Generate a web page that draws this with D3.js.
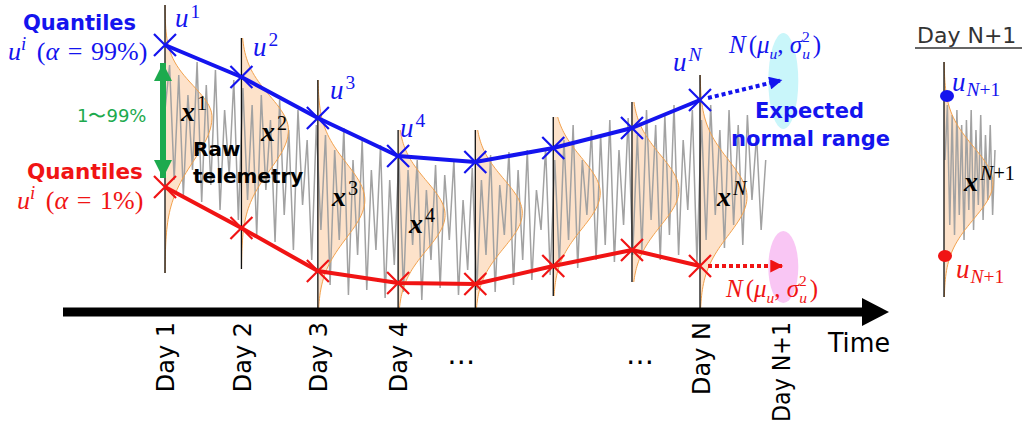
<!DOCTYPE html>
<html>
<head>
<meta charset="utf-8">
<script src="https://cdn.jsdelivr.net/npm/d3@7"></script>
<style>
body { margin: 0; background: #fff; }
</style>
</head>
<body>
<svg id="chart" width="1026" height="429"></svg>
<script>
// days shown on the time axis
var dayTime = [1, 2, 3, 4.05, 5.06, 6.08, 7.11, 8];
var dayMarks = ["1", "2", "3", "4", null, null, null, "N"];
// quantiles per day (value units)
var upperQ = [265, 233, 192, 154, 148, 162, 182, 210];
var lowerQ = [123, 82, 39, 27, 26, 44, 60, 44];
// daily distribution of telemetry
var distMean = [193, 180, 110, 95, 97, 117, 120, 113];
var distSdHigh = [31, 34, 37, 34, 34, 35, 35, 37];
var distSdLow = [44, 40, 38, 35, 35, 36, 36, 38];
var rangeHigh = [305, 272, 230, 180, 180, 193, 208, 235];
var rangeLow = [37, 41, -6, -6, -6, 14, 28, -6];
// axis labels
var axisLabels = ["Day 1", "Day 2", "Day 3", "Day 4", "\u2026", "\u2026", "Day N", "Day N+1"];
var axisLabelTime = [1, 2, 3, 4.05, 4.87, 7.21, 8.01, 9.06];
// raw telemetry samples, every 0.06 day from day 1
var grayStart = 1, grayStep = 0.06;
var telemetry = [200, 245, 130, 235, 115, 215, 140, 248, 108, 225, 125, 240, 100, 200, 135, 230, 90,
  222, 110, 205, 75, 215, 120, 190, 68, 210, 95, 180, 60, 200, 105, 170, 50, 185,
  80, 175, 25, 160, 70, 182, 15, 150, 55, 170, 20, 140, 60, 165, 12, 130, 45, 155,
  18, 140, 65, 150, 10, 120, 50, 145, 22, 135, 70, 150, 15, 110, 40, 142, 20,
  130, 55, 155, 18, 125, 75, 158, 25, 140, 50, 160, 30, 120, 80, 162, 35, 150,
  45, 170, 70, 185, 42, 150, 95, 180, 50, 175, 65, 190, 48, 160, 85, 192, 55,
  175, 60, 200, 90, 185, 50, 195, 75, 205, 55, 170, 100, 200, 48,
  190, 70, 205, 95, 180, 62, 200, 85, 185, 65, 195, 110, 175, 80, 150];
// next day prediction
var nextTime = 9.09;
var nextMean = [229, 45];
var nextSpread = [16, 12];
// Day N+1 panel
var panelUpper = 214, panelLower = 54;
var panelMean = 127, panelSd = 36, panelHigh = 248, panelLow = 13;
var panelTelemetry = [150, 205, 85, 195, 75, 200, 95, 185, 70, 190, 100, 200, 80, 180, 105, 195, 90, 175, 110, 185, 95, 160];

var BLUE = "#1414ee", RED = "#f01414", GREEN = "#1daa4e";
var svg = d3.select("#chart");

var x = d3.scaleLinear().domain([1, 8]).range([165, 700]);
var y = d3.scaleLinear().domain([0, 300]).range([310, 10]);
var px = d3.scaleLinear().domain([0, 1]).range([945, 995]);

var defs = svg.append("defs");
function arrowMarker(id, color, w, h) {
  defs.append("marker").attr("id", id)
    .attr("markerUnits", "userSpaceOnUse")
    .attr("viewBox", "0 0 10 10").attr("refX", 10).attr("refY", 5)
    .attr("markerWidth", w).attr("markerHeight", h)
    .attr("orient", "auto-start-reverse")
    .append("path").attr("d", "M0,0L10,5L0,10Z").attr("fill", color);
}
arrowMarker("arBlue", BLUE, 14, 13);
arrowMarker("arRed", RED, 14, 13);
arrowMarker("arGreen", GREEN, 20, 18);

function bump(x0, mean, sdHi, sdLo, hi, lo, w) {
  return d3.range(hi, lo - 0.1, -(hi - lo) / 80).map(function(v) {
    var z = (v - mean) / (v > mean ? sdHi : sdLo);
    return [x0 + w * Math.exp(-z * z / 2), y(v)];
  });
}

// distributions (fill)
var gDist = svg.append("g");
var dayBumps = dayTime.map(function(t, i) {
  return bump(x(t), distMean[i], distSdHigh[i], distSdLow[i], rangeHigh[i], Math.max(rangeLow[i], 0), 47);
});
dayTime.forEach(function(t, i) {
  var lo = Math.max(rangeLow[i], 0);
  gDist.append("path")
    .attr("d", d3.line()([[x(t), y(rangeHigh[i])]].concat(dayBumps[i]).concat([[x(t), y(lo)]])) + "Z")
    .attr("fill", "#fcd6b4").attr("fill-opacity", 0.7);
});
var panelPts = bump(px(0) - 1, panelMean, panelSd, panelSd, panelHigh, panelLow, 49);
gDist.append("path")
  .attr("d", d3.line()([[px(0) - 1, y(panelHigh)]].concat(panelPts).concat([[px(0) - 1, y(panelLow)]])) + "Z")
  .attr("fill", "#fcd6b4").attr("fill-opacity", 0.7);

// raw telemetry
var grayLine = d3.line()
  .x(function(d, i) { return x(grayStart + i * grayStep); })
  .y(function(d) { return y(d); });
svg.append("path").attr("d", grayLine(telemetry))
  .attr("fill", "none").attr("stroke", "#a2a2a2").attr("stroke-width", 1.5);
var panelLine = d3.line()
  .x(function(d, i) { return px(i / (panelTelemetry.length - 1)); })
  .y(function(d) { return y(d); });
svg.append("path").attr("d", panelLine(panelTelemetry))
  .attr("fill", "none").attr("stroke", "#a2a2a2").attr("stroke-width", 1.5);

// distribution outlines
dayBumps.forEach(function(pts) {
  svg.append("path").attr("d", d3.line()(pts))
    .attr("fill", "none").attr("stroke", "#f2a24e").attr("stroke-width", 1);
});
svg.append("path").attr("d", d3.line()(panelPts))
  .attr("fill", "none").attr("stroke", "#f2a24e").attr("stroke-width", 1);

// day lines
dayTime.forEach(function(t, i) {
  svg.append("line").attr("x1", x(t)).attr("x2", x(t))
    .attr("y1", y(rangeHigh[i])).attr("y2", y(rangeLow[i]))
    .attr("stroke", "#111").attr("stroke-width", 1.3);
});
svg.append("line").attr("x1", px(0) - 1).attr("x2", px(0) - 1)
  .attr("y1", y(panelHigh)).attr("y2", y(panelLow))
  .attr("stroke", "#111").attr("stroke-width", 1.3);

// time axis
var axis = d3.axisBottom(x).tickValues(axisLabelTime).tickSize(0)
  .tickFormat(function(d, i) { return axisLabels[i]; });
var gAxis = svg.append("g").attr("transform", "translate(0,312)").call(axis);
gAxis.select(".domain").remove();
gAxis.selectAll("text")
  .attr("font-family", "'DejaVu Sans', sans-serif").attr("font-size", 24).attr("fill", "#000")
  .each(function(d, i) {
    var t = d3.select(this);
    if (axisLabels[i] === "\u2026") {
      t.attr("transform", null).attr("x", 0).attr("y", 52).attr("dy", 0)
        .attr("font-size", 28).style("text-anchor", "middle");
    } else {
      t.attr("transform", "rotate(-90)").attr("x", -10).attr("y", 0).attr("dy", "0.36em")
        .style("text-anchor", "end");
      if (axisLabels[i].length > 6) t.attr("textLength", 100).attr("lengthAdjust", "spacingAndGlyphs");
    }
  });
gAxis.append("line").attr("x1", 63).attr("x2", 866).attr("y1", 0).attr("y2", 0)
  .attr("stroke", "#000").attr("stroke-width", 9);
gAxis.append("path").attr("d", "M862,-14L889,0L862,14Z").attr("fill", "#000");
svg.append("text").attr("x", 828).attr("y", 352).text("Time")
  .attr("font-family", "'DejaVu Sans Condensed', 'DejaVu Sans', sans-serif").attr("font-size", 26)
  .attr("textLength", 62).attr("lengthAdjust", "spacingAndGlyphs").attr("fill", "#000");

// quantile lines
function quantLine(vals, color) {
  var pts = vals.map(function(v, i) { return [x(dayTime[i]), y(v)]; });
  svg.append("path").attr("d", d3.line()(pts)).attr("fill", "none")
    .attr("stroke", color).attr("stroke-width", 4).attr("stroke-linejoin", "round");
  svg.selectAll(null).data(pts).enter().append("path")
    .attr("transform", function(d) { return "translate(" + d[0] + "," + d[1] + ")"; })
    .attr("d", "M-11,-11L11,11M-11,11L11,-11")
    .attr("stroke", color).attr("stroke-width", 2.2).attr("fill", "none");
}
quantLine(upperQ, BLUE);
quantLine(lowerQ, RED);

// prediction ellipses and dotted arrows
svg.append("ellipse").attr("cx", x(nextTime)).attr("cy", y(nextMean[0]))
  .attr("rx", 15).attr("ry", 3 * nextSpread[0]).attr("fill", "#c9f6fa");
svg.append("ellipse").attr("cx", x(nextTime)).attr("cy", y(nextMean[1]) + 2)
  .attr("rx", 15).attr("ry", 3 * nextSpread[1]).attr("fill", "#f9c6f4");
var last = dayTime.length - 1;
svg.append("line").attr("x1", x(dayTime[last]) + 8).attr("y1", y(upperQ[last]) - 2)
  .attr("x2", x(nextTime) - 1).attr("y2", y(nextMean[0]) - 1)
  .attr("stroke", BLUE).attr("stroke-width", 4).attr("stroke-dasharray", "4,3")
  .attr("marker-end", "url(#arBlue)");
svg.append("line").attr("x1", x(dayTime[last]) + 8).attr("y1", y(lowerQ[last]))
  .attr("x2", x(nextTime)).attr("y2", y(lowerQ[last]))
  .attr("stroke", RED).attr("stroke-width", 4).attr("stroke-dasharray", "4,3")
  .attr("marker-end", "url(#arRed)");

// green range arrow
svg.append("line").attr("x1", 163).attr("x2", 163)
  .attr("y1", y(upperQ[0]) + 18).attr("y2", y(lowerQ[0]) - 9)
  .attr("stroke", GREEN).attr("stroke-width", 6)
  .attr("marker-start", "url(#arGreen)").attr("marker-end", "url(#arGreen)");

// Day N+1 points
svg.append("ellipse").attr("cx", px(0) + 2).attr("cy", y(panelUpper)).attr("rx", 7).attr("ry", 6).attr("fill", BLUE);
svg.append("ellipse").attr("cx", px(0)).attr("cy", y(panelLower)).attr("rx", 7).attr("ry", 6).attr("fill", RED);

// text helpers
function mathText(x0, y0, parts, size, color, opts) {
  opts = opts || {};
  var supK = opts.sup || -0.38, subK = opts.sub || 0.2, scriptK = opts.script || 0.72;
  var t = svg.append("text").attr("x", x0).attr("y", y0)
    .attr("font-family", "'Liberation Serif', 'DejaVu Serif', serif")
    .attr("font-size", size).attr("fill", color);
  var shift = 0;
  parts.forEach(function(p) {
    var s = p.sup ? supK * size : (p.sub ? subK * size : 0);
    var ts = t.append("tspan").attr("dy", s - shift)
      .attr("font-size", (p.sup || p.sub) ? size * scriptK : size)
      .attr("font-style", p.it ? "italic" : "normal")
      .attr("font-weight", p.b ? "bold" : "normal")
      .text(p.t);
    if (p.dx) ts.attr("dx", p.dx);
    shift = s;
  });
  return t;
}
function sansText(x0, y0, str, size, color) {
  return svg.append("text").attr("x", x0).attr("y", y0).text(str)
    .attr("font-family", "'DejaVu Sans', sans-serif").attr("font-weight", "bold")
    .attr("font-size", size).attr("fill", color);
}

var SP = "\u2004";
sansText(23, 30, "Quantiles", 21, BLUE);
mathText(8, 60, [{t: "u", it: 1}, {t: "i", it: 1, sup: 1}, {t: " (", dx: 4}, {t: "\u03b1", it: 1}, {t: SP + "=" + SP + "99%)"}], 26, BLUE);
svg.append("text").attr("x", 77).attr("y", 122).text("1\u301c99%")
  .attr("font-family", "'DejaVu Sans', sans-serif").attr("font-size", 18).attr("fill", GREEN);
sansText(27, 179, "Quantiles", 21.5, RED);
mathText(17, 209, [{t: "u", it: 1}, {t: "i", it: 1, sup: 1}, {t: " (", dx: 4}, {t: "\u03b1", it: 1}, {t: SP + "=" + SP + "1%)"}], 26, RED);
sansText(193, 156, "Raw", 20, "#000");
sansText(193, 183, "telemetry", 20, "#000");
sansText(755, 118, "Expected", 21, BLUE);
sansText(731, 146, "normal range", 21, BLUE);

var uLabelPos = [[175, 27], [253, 56], [330, 99], [400, 137], null, null, null, [673, 71]];
dayMarks.forEach(function(m, i) {
  if (!m || !uLabelPos[i]) return;
  mathText(uLabelPos[i][0], uLabelPos[i][1], [{t: "u", it: 1}, {t: m, it: m === "N", sup: 1, dx: 2}], 27, BLUE,
    i === 0 ? {sup: -0.34} : null);
});
var xLabelPos = [[181, 121], [261, 141], [332, 206], [409, 233], null, null, null, [717, 206]];
dayMarks.forEach(function(m, i) {
  if (!m || !xLabelPos[i]) return;
  mathText(xLabelPos[i][0], xLabelPos[i][1], [{t: "x", it: 1, b: 1}, {t: m, it: m === "N", sup: 1, dx: 2}], 28, "#000");
});
mathText(964, 191, [{t: "x", it: 1, b: 1}, {t: "N", it: 1, sup: 1, dx: 2}, {t: "+1", sup: 1}], 28, "#000");
mathText(952, 91, [{t: "u", it: 1}, {t: "N", it: 1, sub: 1, dx: 1}, {t: "+1", sub: 1}], 27, BLUE);
mathText(956, 278, [{t: "u", it: 1}, {t: "N", it: 1, sub: 1, dx: 1}, {t: "+1", sub: 1}], 27, RED);

function normText(x0, y0, color) {
  mathText(x0, y0, [{t: "N", it: 1}, {t: "(", dx: 3}, {t: "\u03bc", it: 1}, {t: "u", it: 1, sub: 1}, {t: ", "},
    {t: "\u03c3", it: 1}, {t: "u", it: 1, sub: 1}, {t: "2", sup: 1, dx: -8}, {t: ")", dx: 3}], 25, color,
    {sup: -0.46, sub: 0.24, script: 0.62});
}
normText(729, 53, BLUE);
normText(726, 297, RED);

// Day N+1 header
svg.append("text").attr("x", 917).attr("y", 43).text("Day N+1")
  .attr("font-family", "'DejaVu Sans', sans-serif").attr("font-size", 22).attr("fill", "#333");
svg.append("line").attr("x1", 915).attr("x2", 1022).attr("y1", 48).attr("y2", 48)
  .attr("stroke", "#333").attr("stroke-width", 1.5);
</script>
</body>
</html>
